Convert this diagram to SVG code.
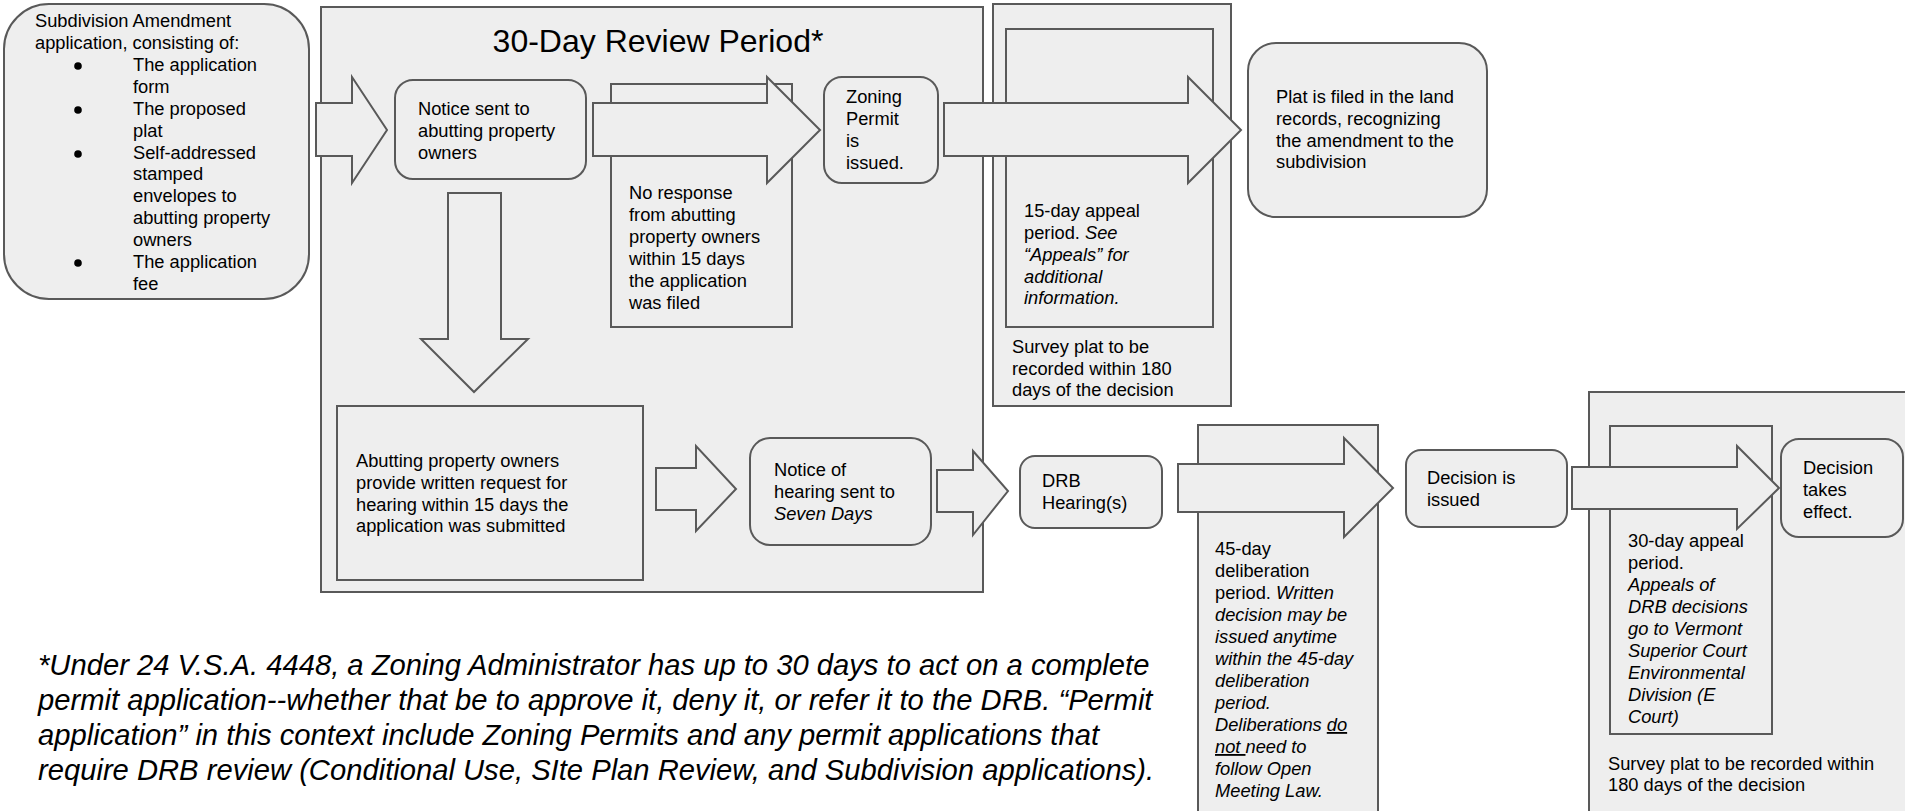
<svg xmlns="http://www.w3.org/2000/svg" width="1905" height="811" viewBox="0 0 1905 811">
<style>
.bx{fill:#eeeeee;stroke:#595959;stroke-width:2}
.ar{fill:#eeeeee;stroke:#595959;stroke-width:2;stroke-linejoin:miter}
text{font-family:"Liberation Sans",Arial,sans-serif;font-size:18.3px;fill:#000}
.i{font-style:italic}
.u{text-decoration:underline}
.title{font-size:32px}
.foot{font-size:29.2px;font-style:italic}
</style>
<rect x="0" y="0" width="1905" height="811" fill="#ffffff"/>

<g id="review-period">
<rect class="bx" x="321" y="7" width="662" height="585"/>
<text class="title" x="658" y="52" text-anchor="middle">30-Day Review Period*</text>
</g>

<g id="application">
<rect class="bx" x="4" y="4" width="305" height="295" rx="45" ry="45"/>
<text x="35" y="27">Subdivision Amendment</text>
<text x="35" y="49">application, consisting of:</text>
<circle cx="78" cy="66" r="3.8" fill="#000"/>
<text x="133" y="71">The application</text>
<text x="133" y="93">form</text>
<circle cx="78" cy="110" r="3.8" fill="#000"/>
<text x="133" y="115">The proposed</text>
<text x="133" y="137">plat</text>
<circle cx="78" cy="154" r="3.8" fill="#000"/>
<text x="133" y="159">Self-addressed</text>
<text x="133" y="180">stamped</text>
<text x="133" y="202">envelopes to</text>
<text x="133" y="224">abutting property</text>
<text x="133" y="246">owners</text>
<circle cx="78" cy="263" r="3.8" fill="#000"/>
<text x="133" y="268">The application</text>
<text x="133" y="290">fee</text>
</g>

<g id="no-response">
<rect class="bx" x="611" y="84" width="181" height="243"/>
<text x="629" y="199">No response</text>
<text x="629" y="221">from abutting</text>
<text x="629" y="243">property owners</text>
<text x="629" y="265">within 15 days</text>
<text x="629" y="287">the application</text>
<text x="629" y="309">was filed</text>
</g>

<g id="appeal-15">
<rect class="bx" x="993" y="4" width="238" height="402"/>
<rect class="bx" x="1006" y="29" width="207" height="298"/>
<text x="1024" y="217">15-day appeal</text>
<text x="1024" y="239">period. <tspan class="i">See</tspan></text>
<text x="1024" y="261" class="i">“Appeals” for</text>
<text x="1024" y="283" class="i">additional</text>
<text x="1024" y="304" class="i">information.</text>
<text x="1012" y="353">Survey plat to be</text>
<text x="1012" y="375">recorded within 180</text>
<text x="1012" y="396">days of the decision</text>
</g>

<g id="deliberation-45">
<rect class="bx" x="1198" y="425" width="180" height="400"/>
<text x="1215" y="555">45-day</text>
<text x="1215" y="577">deliberation</text>
<text x="1215" y="599">period. <tspan class="i">Written</tspan></text>
<text x="1215" y="621" class="i">decision may be</text>
<text x="1215" y="643" class="i">issued anytime</text>
<text x="1215" y="665" class="i">within the 45-day</text>
<text x="1215" y="687" class="i">deliberation</text>
<text x="1215" y="709" class="i">period.</text>
<text x="1215" y="731" class="i">Deliberations <tspan class="u">do</tspan></text>
<text x="1215" y="753" class="i"><tspan class="u">not </tspan>need to</text>
<text x="1215" y="775" class="i">follow Open</text>
<text x="1215" y="797" class="i">Meeting Law.</text>
</g>

<g id="appeal-30">
<rect class="bx" x="1589" y="392" width="340" height="440"/>
<rect class="bx" x="1610" y="426" width="162" height="308"/>
<text x="1628" y="547">30-day appeal</text>
<text x="1628" y="569">period.</text>
<text x="1628" y="591" class="i">Appeals of</text>
<text x="1628" y="613" class="i">DRB decisions</text>
<text x="1628" y="635" class="i">go to Vermont</text>
<text x="1628" y="657" class="i">Superior Court</text>
<text x="1628" y="679" class="i">Environmental</text>
<text x="1628" y="701" class="i">Division (E</text>
<text x="1628" y="723" class="i">Court)</text>
<text x="1608" y="770">Survey plat to be recorded within</text>
<text x="1608" y="791">180 days of the decision</text>
</g>

<g id="notice-abutting">
<rect class="bx" x="395" y="80" width="191" height="99" rx="18" ry="18"/>
<text x="418" y="115">Notice sent to</text>
<text x="418" y="137">abutting property</text>
<text x="418" y="159">owners</text>
</g>

<g id="zoning-permit">
<rect class="bx" x="824" y="77" width="114" height="106" rx="18" ry="18"/>
<text x="846" y="103">Zoning</text>
<text x="846" y="125">Permit</text>
<text x="846" y="147">is</text>
<text x="846" y="169">issued.</text>
</g>

<g id="plat-filed">
<rect class="bx" x="1248" y="43" width="239" height="174" rx="28" ry="28"/>
<text x="1276" y="103">Plat is filed in the land</text>
<text x="1276" y="125">records, recognizing</text>
<text x="1276" y="147">the amendment to the</text>
<text x="1276" y="168">subdivision</text>
</g>

<g id="abutting-request">
<rect class="bx" x="337" y="406" width="306" height="174"/>
<text x="356" y="467">Abutting property owners</text>
<text x="356" y="489">provide written request for</text>
<text x="356" y="511">hearing within 15 days the</text>
<text x="356" y="532">application was submitted</text>
</g>

<g id="notice-hearing">
<rect class="bx" x="750" y="438" width="181" height="107" rx="20" ry="20"/>
<text x="774" y="476">Notice of</text>
<text x="774" y="498">hearing sent to</text>
<text x="774" y="520" class="i">Seven Days</text>
</g>

<g id="drb-hearing">
<rect class="bx" x="1020" y="456" width="142" height="72" rx="15" ry="15"/>
<text x="1042" y="487">DRB</text>
<text x="1042" y="509">Hearing(s)</text>
</g>

<g id="decision-issued">
<rect class="bx" x="1406" y="450" width="161" height="77" rx="15" ry="15"/>
<text x="1427" y="484">Decision is</text>
<text x="1427" y="506">issued</text>
</g>

<g id="decision-effect">
<rect class="bx" x="1781" y="439" width="122" height="98" rx="18" ry="18"/>
<text x="1803" y="474">Decision</text>
<text x="1803" y="496">takes</text>
<text x="1803" y="518">effect.</text>
</g>

<g id="connectors">
<polygon class="ar" points="316,103 352,103 352,77 387,130 352,183 352,156 316,156"/>
<polygon class="ar" points="593,103 767,103 767,77 820,130 767,183 767,156 593,156"/>
<polygon class="ar" points="944,103 1188,103 1188,77 1241,130 1188,183 1188,156 944,156"/>
<polygon class="ar" points="448,193 501,193 501,339 528,339 474,392 421,339 448,339"/>
<polygon class="ar" points="656,468 696,468 696,446 736,489 696,531 696,510 656,510"/>
<polygon class="ar" points="937,470 973,470 973,451 1008,491 973,535 973,512 937,512"/>
<polygon class="ar" points="1178,464 1344,464 1344,438 1393,488 1344,537 1344,512 1178,512"/>
<polygon class="ar" points="1572,467 1737,467 1737,446 1779,488 1737,529 1737,509 1572,509"/>
</g>

<g id="footnote">
<text class="foot" x="38" y="675">*Under 24 V.S.A. 4448, a Zoning Administrator has up to 30 days to act on a complete</text>
<text class="foot" x="38" y="710">permit application--whether that be to approve it, deny it, or refer it to the DRB. “Permit</text>
<text class="foot" x="38" y="745">application” in this context include Zoning Permits and any permit applications that</text>
<text class="foot" x="38" y="780">require DRB review (Conditional Use, SIte Plan Review, and Subdivision applications).</text>
</g>
</svg>
